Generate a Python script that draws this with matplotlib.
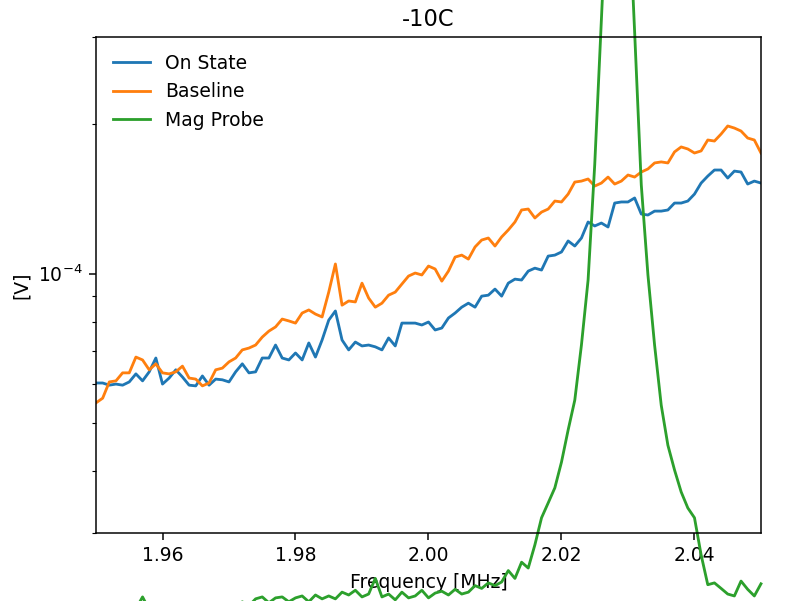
import numpy as np
import matplotlib
matplotlib.use("Agg")
import matplotlib.pyplot as plt
from matplotlib.ticker import NullFormatter

# frequency grid, 1 kHz steps
freq = np.round(np.arange(1.950, 2.0505, 0.001), 3)

# amplitudes in units of 1e-5 V
on_state = np.array([
    6.02, 6.02, 5.96, 5.99, 5.96, 6.05, 6.28, 6.08, 6.34, 6.76,
    5.99, 6.16, 6.40, 6.19, 5.96, 5.94, 6.22, 5.96, 6.13, 6.11,
    6.05, 6.34, 6.58, 6.31, 6.34, 6.76, 6.76, 7.18, 6.76, 6.70,
    6.92, 6.70, 7.25, 6.79, 7.35, 8.06, 8.41, 7.35, 7.02, 7.28,
    7.15, 7.18, 7.12, 7.02, 7.42, 7.15, 7.95, 7.95, 7.95, 7.88,
    7.99, 7.70, 7.77, 8.14, 8.33, 8.56, 8.72, 8.56, 9.01, 9.05,
    9.31, 9.01, 9.57, 9.75, 9.71, 10.12, 10.26, 10.17, 10.85, 10.90,
    11.06, 11.64, 11.37, 11.80, 12.71, 12.48, 12.65, 12.42, 13.88, 13.95,
    13.95, 14.21, 13.19, 13.13, 13.37, 13.37, 13.44, 13.88, 13.88, 14.01,
    14.47, 15.23, 15.73, 16.18, 16.18, 15.59, 16.10, 16.03, 15.16, 15.37,
    15.23,
])

baseline = np.array([
    5.49, 5.61, 6.05, 6.08, 6.31, 6.31, 6.79, 6.70, 6.40, 6.58,
    6.31, 6.28, 6.34, 6.51, 6.16, 6.13, 5.94, 6.02, 6.40, 6.45,
    6.64, 6.76, 7.02, 7.08, 7.18, 7.45, 7.66, 7.81, 8.10, 8.03,
    7.95, 8.33, 8.45, 8.29, 8.18, 9.18, 10.46, 8.64, 8.81, 8.77,
    9.57, 8.93, 8.56, 8.72, 9.05, 9.18, 9.53, 9.89, 10.03, 9.94,
    10.36, 10.22, 9.66, 10.12, 10.80, 10.90, 10.70, 11.32, 11.69, 11.80,
    11.37, 11.86, 12.25, 12.71, 13.44, 13.50, 12.95, 13.31, 13.50, 14.01,
    13.95, 14.47, 15.30, 15.37, 15.52, 15.02, 15.23, 15.66, 15.16, 15.37,
    15.81, 15.66, 16.03, 16.26, 16.72, 16.80, 16.72, 17.60, 18.01, 17.84,
    17.51, 17.68, 18.60, 18.51, 19.12, 19.85, 19.66, 19.39, 18.77, 18.60,
    17.51,
])

mag_probe = np.array([
    2.08, 2.14, 2.06, 2.12, 2.09, 2.16, 2.11, 2.23, 2.10, 2.14,
    2.08, 2.13, 2.15, 2.10, 2.14, 2.09, 2.13, 2.17, 2.11, 2.15,
    2.17, 2.13, 2.18, 2.14, 2.21, 2.23, 2.17, 2.22, 2.23, 2.18,
    2.22, 2.24, 2.18, 2.25, 2.21, 2.24, 2.21, 2.28, 2.25, 2.30,
    2.23, 2.26, 2.43, 2.23, 2.26, 2.20, 2.28, 2.22, 2.24, 2.30,
    2.22, 2.27, 2.29, 2.25, 2.31, 2.26, 2.28, 2.35, 2.32, 2.38,
    2.35, 2.39, 2.52, 2.43, 2.62, 2.55, 2.84, 3.22, 3.45, 3.70,
    4.17, 4.84, 5.56, 7.18, 9.71, 16.6, 32.5, 63.9, 124.7, 119.1,
    61.0, 30.7, 15.1, 9.94, 7.18, 5.43, 4.51, 4.02, 3.63, 3.37,
    3.22, 2.71, 2.36, 2.38, 2.32, 2.26, 2.24, 2.40, 2.31, 2.24,
    2.37,
])

fig = plt.figure(figsize=(785 / 135, 601 / 135), dpi=135)
ax = fig.add_axes([0.1223, 0.1131, 0.8471, 0.8253])

ax.plot(freq, on_state * 1e-5, label="On State")
ax.plot(freq, baseline * 1e-5, label="Baseline")
# probe trace is left unclipped so the peak runs past the axes
ax.plot(freq, mag_probe * 1e-5, label="Mag Probe", clip_on=False)

ax.set_yscale("log")
ax.set_xlim(1.95, 2.05)
ax.set_ylim(3e-5, 3e-4)
ax.yaxis.set_minor_formatter(NullFormatter())
ax.set_xticks([1.96, 1.98, 2.00, 2.02, 2.04])

ax.set_title("-10C")
ax.set_xlabel("Frequency [MHz]")
ax.set_ylabel("[V]")
ax.legend(loc="upper left", frameon=False)

fig.savefig("out.png", dpi=135)
